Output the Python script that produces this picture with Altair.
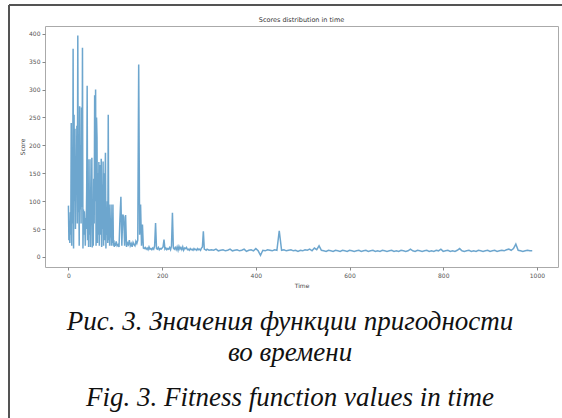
import altair as alt
import pandas as pd

# Scores: step 1 up to t=100, step 2 up to t=300, then step 5
scores_dense = [92, 30, 55, 25, 80, 40, 240, 20, 180, 60,
                373, 15, 255, 100, 230, 50, 180, 120, 235, 60,
                397, 80, 150, 20, 270, 85, 200, 60, 268, 90,
                375, 15, 85, 40, 82, 60, 20, 70, 50, 120,
                307, 30, 175, 18, 120, 40, 175, 18, 95, 60,
                178, 17, 70, 20, 140, 60, 290, 100, 300, 20,
                250, 213, 25, 150, 40, 170, 20, 100, 165, 40,
                176, 18, 130, 50, 171, 20, 150, 30, 120, 187,
                15, 80, 40, 100, 25, 255, 30, 94, 20, 60,
                35, 94, 20, 50, 25, 94, 20, 30, 18, 25,
                20]
scores_early = [28, 20, 22, 18, 70, 108, 20, 76, 72, 20,
                75, 18, 25, 22, 30, 20, 24, 18, 26, 22,
                20, 28, 24, 30, 345, 40, 94, 20, 58, 16]
scores_mid = [15, 17, 14, 16, 13, 18, 14, 15, 13, 16,
              14, 20, 61, 15, 14, 17, 13, 15, 14, 16,
              18, 31, 14, 16, 13, 15, 14, 17, 13, 20,
              79, 16, 14, 17, 13, 18, 12, 19, 14, 17,
              13, 18, 12, 16, 15, 17, 13, 14, 12, 15,
              13, 14, 12, 15, 13, 14, 12, 15, 13, 14,
              12, 16, 18, 46, 14, 13, 12, 14, 13, 12]
scores_late = [13, 12, 14, 11, 12, 13, 11, 12, 14, 11,
               12, 13, 11, 12, 14, 10, 12, 13, 11, 15,
               11, 3, 12, 11, 13, 12, 11, 13, 12, 47,
               12, 13, 11, 12, 13, 11, 12, 10, 12, 11,
               13, 12, 14, 11, 16, 13, 20, 12, 11, 10,
               12, 11, 10, 12, 11, 10, 12, 11, 10, 12,
               11, 10, 11, 12, 10, 11, 12, 10, 11, 12,
               10, 11, 10, 12, 11, 10, 11, 12, 10, 11,
               10, 12, 11, 10, 11, 14, 11, 10, 12, 11,
               10, 11, 12, 10, 11, 10, 12, 11, 14, 10,
               11, 12, 10, 11, 10, 12, 15, 11, 10, 11,
               12, 10, 11, 10, 12, 11, 10, 11, 12, 10,
               11, 12, 10, 11, 12, 11, 13, 14, 12, 15,
               23, 12, 11, 10, 11, 12, 11, 11]

time_dense = list(range(len(scores_dense)))
time_early = [102 + 2 * i for i in range(len(scores_early))]
time_mid = [162 + 2 * i for i in range(len(scores_mid))]
time_late = [305 + 5 * i for i in range(len(scores_late))]

df = pd.DataFrame({
    "Time": time_dense + time_early + time_mid + time_late,
    "Score": scores_dense + scores_early + scores_mid + scores_late,
})

x_ticks = [0, 200, 400, 600, 800, 1000]
y_ticks = [0, 50, 100, 150, 200, 250, 300, 350, 400]

title_text = "Scores distribution in time"
caption_lines = ["Рис. 3. Значения функции пригодности", "во времени",
                 "Fig. 3. Fitness function values in time"]
caption_y = [296, 327, 372]

W, H = 513, 241

line = alt.Chart(df).mark_line(color="#1f77b4", opacity=0.65, strokeWidth=1.5).encode(
    x=alt.X("Time:Q", scale=alt.Scale(domain=[-50, 1045], nice=False, zero=False),
            axis=alt.Axis(values=x_ticks, title="Time", grid=False, format="d")),
    y=alt.Y("Score:Q", scale=alt.Scale(domain=[-18, 414], nice=False, zero=False),
            axis=alt.Axis(values=y_ticks, title="Score", grid=False, format="d")),
)

frame_left = alt.Chart(df).mark_rule(color="#555555", strokeWidth=1.5).encode(
    x=alt.value(-36), y=alt.value(-21), y2=alt.value(400)
)
frame_top = alt.Chart(df).mark_rule(color="#555555", strokeWidth=1.5).encode(
    x=alt.value(-36), x2=alt.value(530), y=alt.value(-21)
)

title_mark = alt.Chart(pd.DataFrame({"t": [title_text]})).mark_text(
    font="DejaVu Sans", fontSize=6.5, color="#333333", baseline="middle", align="center"
).encode(text="t:N", x=alt.value(W / 2), y=alt.value(-6))

cap_df = pd.DataFrame({"t": caption_lines, "y": caption_y})
caption = alt.Chart(cap_df).mark_text(
    font="Liberation Serif", fontStyle="italic", fontSize=27, color="#111111",
    baseline="middle", align="center"
).encode(text="t:N", x=alt.value(245), y=alt.Y("y:Q", scale=None))

chart = alt.layer(line, frame_left, frame_top, title_mark, caption).properties(
    width=W, height=H,
    autosize=alt.AutoSizeParams(type="none"),
    padding={"left": 45, "top": 26, "right": 4, "bottom": 151},
    background="white",
).configure_view(
    stroke="#aaaaaa", strokeWidth=1
).configure_axis(
    domain=False, tickColor="#888888", tickSize=3, labelColor="#555555",
    labelFont="DejaVu Sans", labelFontSize=6, titleFont="DejaVu Sans",
    titleFontSize=6, titleColor="#444444", titleFontWeight="normal", labelPadding=2
).configure_axisY(titlePadding=3).configure_axisX(titlePadding=4)

chart.save("out.html", embed_options={"renderer": "svg", "actions": False})
